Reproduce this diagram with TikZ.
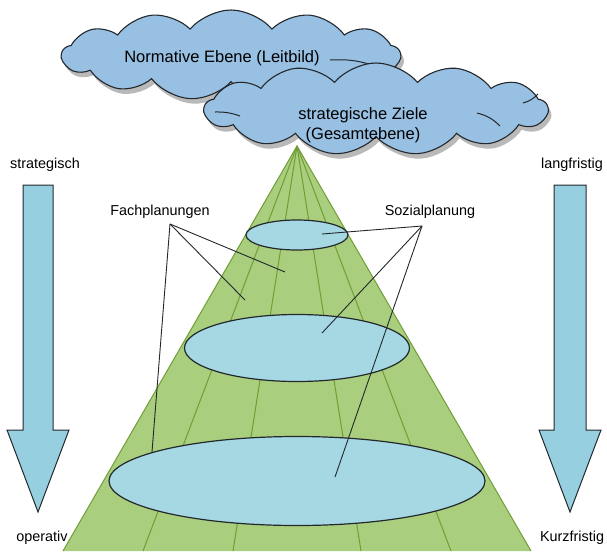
\documentclass[tikz,border=0pt]{standalone}
\usepackage{fontspec}
\setmainfont{Liberation Sans}
\usetikzlibrary{shapes.geometric,shapes.symbols,shadows,positioning}
\definecolor{cloudblue}{RGB}{152,192,226}
\definecolor{discblue}{RGB}{166,216,228}
\definecolor{arrowblue}{RGB}{150,208,224}
\definecolor{conegreen}{RGB}{168,206,126}
\definecolor{raygreen}{RGB}{112,158,52}
\definecolor{outline}{RGB}{35,40,45}

\begin{document}
\begin{tikzpicture}[x=1pt,y=-1pt,
    lbl/.style={font=\fontsize{14.4}{16}\selectfont, inner sep=0pt},
    cloudtxt/.style={font=\fontsize{16.5}{20}\selectfont, inner sep=0pt, align=center},
    cloudy/.style={cloud, cloud puffs=13, cloud puff arc=100, aspect=3.7,
        draw=outline, line width=1.1pt, fill=cloudblue, inner sep=0pt,
        drop shadow={shadow xshift=3pt, shadow yshift=-5pt, fill=gray!55, opacity=1}},
    disc/.style={ellipse, draw=outline, line width=1.2pt, fill=discblue, inner sep=0pt},
    leader/.style={draw=outline, line width=0.9pt},
    ray/.style={draw=raygreen, line width=1pt},
    bigarrow/.style={draw=outline, line width=1pt, fill=arrowblue}]
\useasboundingbox (0,0) rectangle (607,551);

% Kegel
\coordinate (apex) at (297,146);
\fill[conegreen] (apex) -- (63,551) -- (531,551) -- cycle;
\foreach \dx in {-154,-64,64,154}
    \draw[ray] (apex) -- ++(\dx,405);
\draw[ray] (63,551) -- (apex) -- (531,551);

% Planungsebenen
\node[disc, minimum width=102pt, minimum height=30pt] (ebeneA) at (297,235) {};
\node[disc, minimum width=225pt, minimum height=67pt] (ebeneB) at (297,348) {};
\node[disc, minimum width=376pt, minimum height=89pt] (ebeneC) at (297,481) {};

% Pfeile links und rechts
\foreach \cx/\sw in {38/15,570/16}
    \draw[bigarrow] (\cx-\sw,185) -- (\cx+\sw,185) -- (\cx+\sw,430) -- (\cx+31,430)
        -- (\cx,512) -- (\cx-31,430) -- (\cx-\sw,430) -- cycle;
\node[lbl] (strat) at (45,165) {strategisch};
\node[lbl] (oper) at (42,538) {operativ};
\node[lbl] (lang) at (572,165) {langfristig};
\node[lbl] (kurz) at (572,538) {Kurzfristig};

% Beschriftungen
\node[lbl] (fach) at (160,212) {Fachplanungen};
\node[lbl] (sozial) at (430,212) {Sozialplanung};
\coordinate (fachroot) at (170,224);
\coordinate (sozroot) at (422,226);
\coordinate (f1) at (285,272);
\coordinate (f2) at (245,300);
\coordinate (f3) at (152,452);
\coordinate (s1) at (322,234);
\coordinate (s2) at (322,333);
\coordinate (s3) at (335,477);
\foreach \p in {f1,f2,f3}
    \draw[leader] (fachroot) -- (\p);
\foreach \p in {s1,s2,s3}
    \draw[leader] (sozroot) -- (\p);

% Wolken
\node[cloudy, minimum width=338pt, minimum height=90pt] (leitbild) at (231,55) {};
\draw[outline, line width=1pt] (330,60) to[bend left=12] (380,68);
\node[cloudy, minimum width=343pt, minimum height=92pt] (ziele) at (376,109) {};
\draw[outline, line width=1pt] (477,113) to[bend left=15] (500,126);
\draw[outline, line width=1pt] (523,103) to[bend right=15] (538,94);
\draw[outline, line width=1pt] (215,112) to[bend left=10] (240,116);
\node[cloudtxt] (leitbildtxt) at (222,58) {Normative Ebene (Leitbild)};
\node[cloudtxt] (zieletxt) at (363,125) {strategische Ziele\\(Gesamtebene)};
\end{tikzpicture}
\end{document}
